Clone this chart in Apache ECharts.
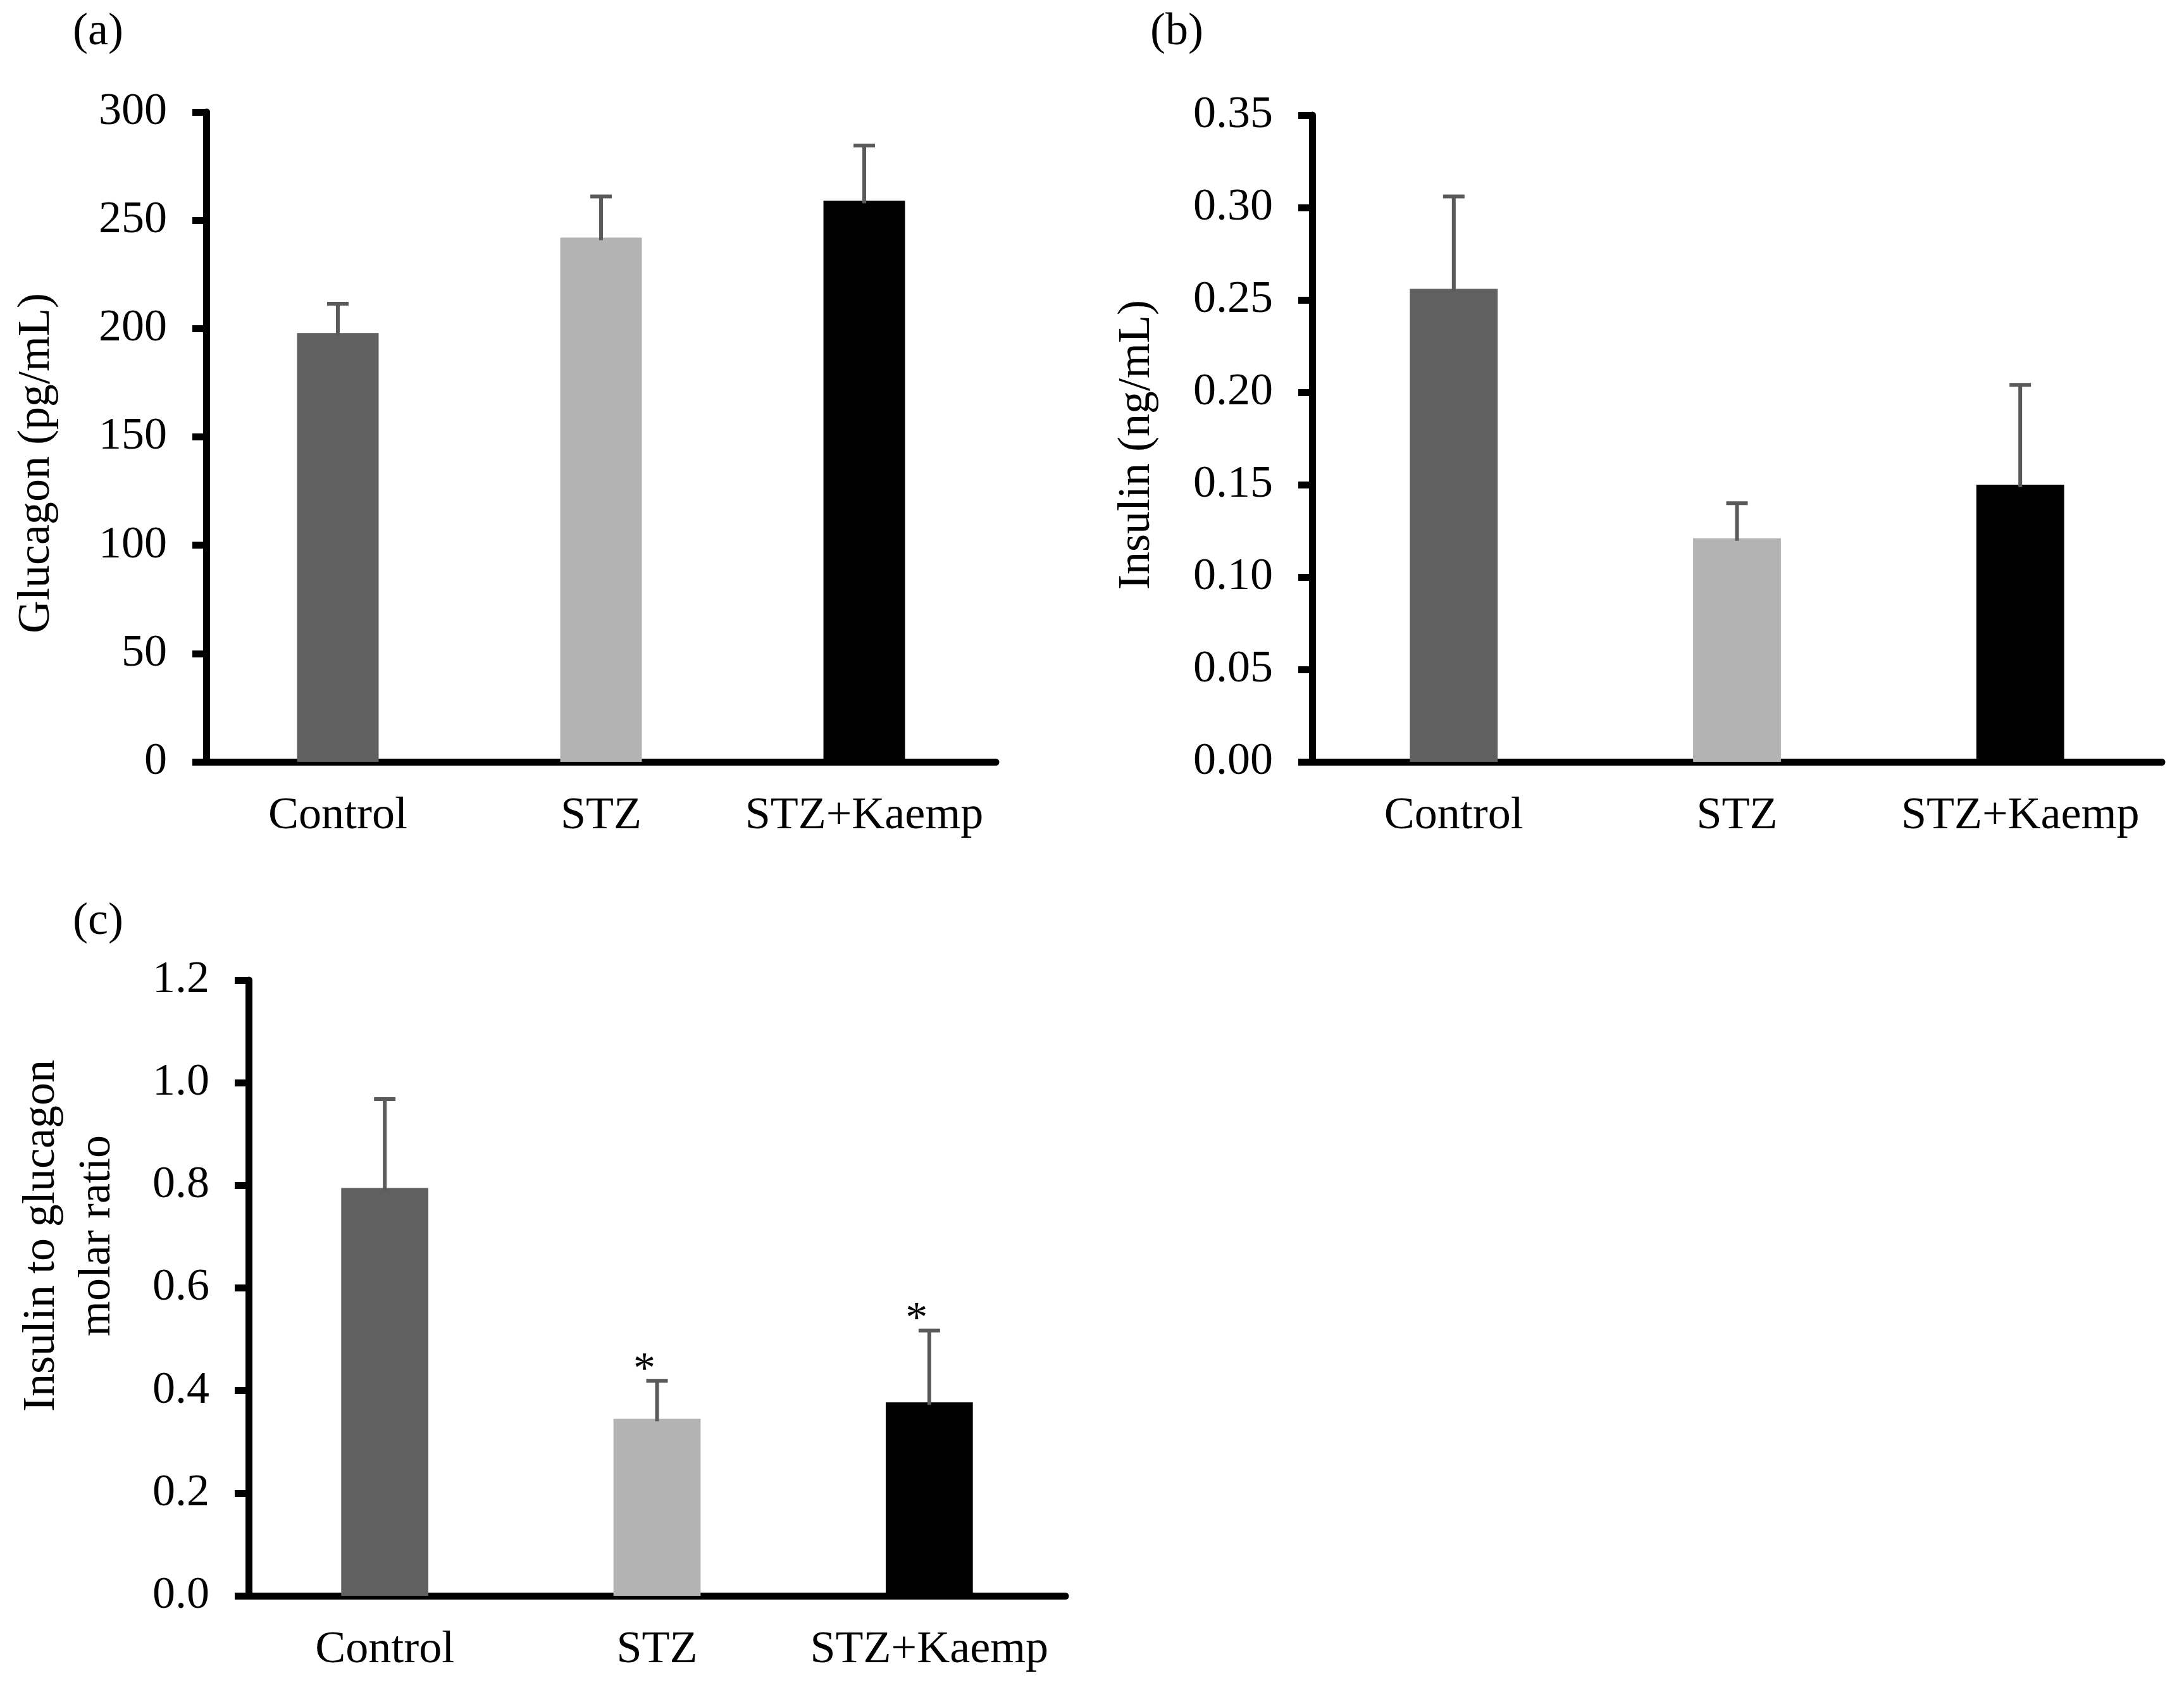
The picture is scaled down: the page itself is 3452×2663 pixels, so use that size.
<!DOCTYPE html>
<html>
<head>
<meta charset="utf-8">
<script src="https://cdn.jsdelivr.net/npm/echarts@6/dist/echarts.min.js"></script>
<style>
html,body{margin:0;padding:0;background:#fff;}
#chart{width:3452px;height:2663px;}
</style>
</head>
<body>
<div id="chart"></div>
<script>
const categories = ['Control', 'STZ', 'STZ+Kaemp'];
const glucagonMean = [198, 242, 259];
const glucagonSD = [13.5, 19, 25.5];
const insulinMean = [0.256, 0.121, 0.150];
const insulinSD = [0.050, 0.019, 0.054];
const ratioMean = [0.795, 0.345, 0.377];
const ratioSD = [0.173, 0.074, 0.140];
const ratioSig = ['', '*', '*'];
const glucagonTicks = [0, 300, 50];
const insulinTicks = [0, 0.35, 0.05];
const ratioTicks = [0, 1.2, 0.2];

const FONT = '"Liberation Serif", "Times New Roman", serif';
const FS = 72;
const barColors = ['#606060', '#b3b3b3', '#000000'];
const errColor = '#5a5a5a';

const chart = echarts.init(document.getElementById('chart'), null, {renderer: 'canvas'});

const grids = [
  {left: 326, top: 177, width: 1248, height: 1027},
  {left: 2074, top: 182, width: 1343, height: 1022},
  {left: 393, top: 1549, width: 1291, height: 973}
];

function xAxis(gi) {
  return {
    type: 'category', gridIndex: gi, data: categories,
    axisLine: {lineStyle: {color: '#000', width: 11}},
    axisTick: {show: false},
    axisLabel: {color: '#000', fontFamily: FONT, fontSize: FS, margin: 50, interval: 0, hideOverlap: false}
  };
}
function yAxis(gi, ticks, dec) {
  return {
    type: 'value', gridIndex: gi, min: ticks[0], max: ticks[1], interval: ticks[2],
    splitLine: {show: false},
    axisLine: {show: true, lineStyle: {color: '#000', width: 11}},
    axisTick: {show: true, length: 22, lineStyle: {color: '#000', width: 11}},
    axisLabel: {color: '#000', fontFamily: FONT, fontSize: FS, margin: 62,
      formatter: v => v.toFixed(dec)}
  };
}
function barSeries(gi, mean, bw) {
  return {
    type: 'bar', xAxisIndex: gi, yAxisIndex: gi, barWidth: bw,
    data: mean.map((v, i) => ({value: v, itemStyle: {color: barColors[i]}})),
    silent: true, animation: false
  };
}
function errSeries(gi, mean, sd, sig) {
  return {
    type: 'custom', xAxisIndex: gi, yAxisIndex: gi, z: 5, silent: true, animation: false,
    data: mean.map((m, i) => [i, m, sd[i]]),
    renderItem: function (params, api) {
      const i = api.value(0), m = api.value(1), e = api.value(2);
      const base = api.coord([i, m]);
      const top = api.coord([i, m + e]);
      const x = base[0];
      const children = [
        {type: 'line', shape: {x1: x, y1: base[1] + 4, x2: x, y2: top[1]}, style: {stroke: errColor, lineWidth: 6}},
        {type: 'line', shape: {x1: x - 17, y1: top[1], x2: x + 17, y2: top[1]}, style: {stroke: errColor, lineWidth: 6}}
      ];
      if (sig && sig[params.dataIndex]) {
        children.push({type: 'text', x: x - 20, y: top[1] - 16,
          style: {text: sig[params.dataIndex], fontFamily: FONT, fontSize: 70, fill: '#000',
            align: 'center', verticalAlign: 'middle', textAlign: 'center', textVerticalAlign: 'middle'}});
      }
      return {type: 'group', children: children};
    }
  };
}
function txt(text, x, y, rot) {
  return {
    type: 'text', x: x, y: y, rotation: rot || 0, silent: true,
    style: {text: text, fontFamily: FONT, fontSize: FS, fill: '#000',
      align: 'center', verticalAlign: 'middle', textAlign: 'center', textVerticalAlign: 'middle'}
  };
}

const option = {
  backgroundColor: '#fff',
  animation: false,
  grid: grids,
  xAxis: [xAxis(0), xAxis(1), xAxis(2)],
  yAxis: [yAxis(0, glucagonTicks, 0), yAxis(1, insulinTicks, 2), yAxis(2, ratioTicks, 1)],
  series: [
    barSeries(0, glucagonMean, '31%'),
    errSeries(0, glucagonMean, glucagonSD, null),
    barSeries(1, insulinMean, '31%'),
    errSeries(1, insulinMean, insulinSD, null),
    barSeries(2, ratioMean, '32%'),
    errSeries(2, ratioMean, ratioSD, ratioSig)
  ],
  graphic: [
    txt('(a)', 155, 51),
    txt('(b)', 1860, 51),
    txt('(c)', 155, 1457),
    txt('Glucagon (pg/mL)', 58, 732, Math.PI / 2),
    txt('Insulin (ng/mL)', 1797, 703, Math.PI / 2),
    txt('Insulin to glucagon', 66, 1953, Math.PI / 2),
    txt('molar ratio', 154, 1953, Math.PI / 2)
  ]
};
chart.setOption(option);
</script>
</body>
</html>
